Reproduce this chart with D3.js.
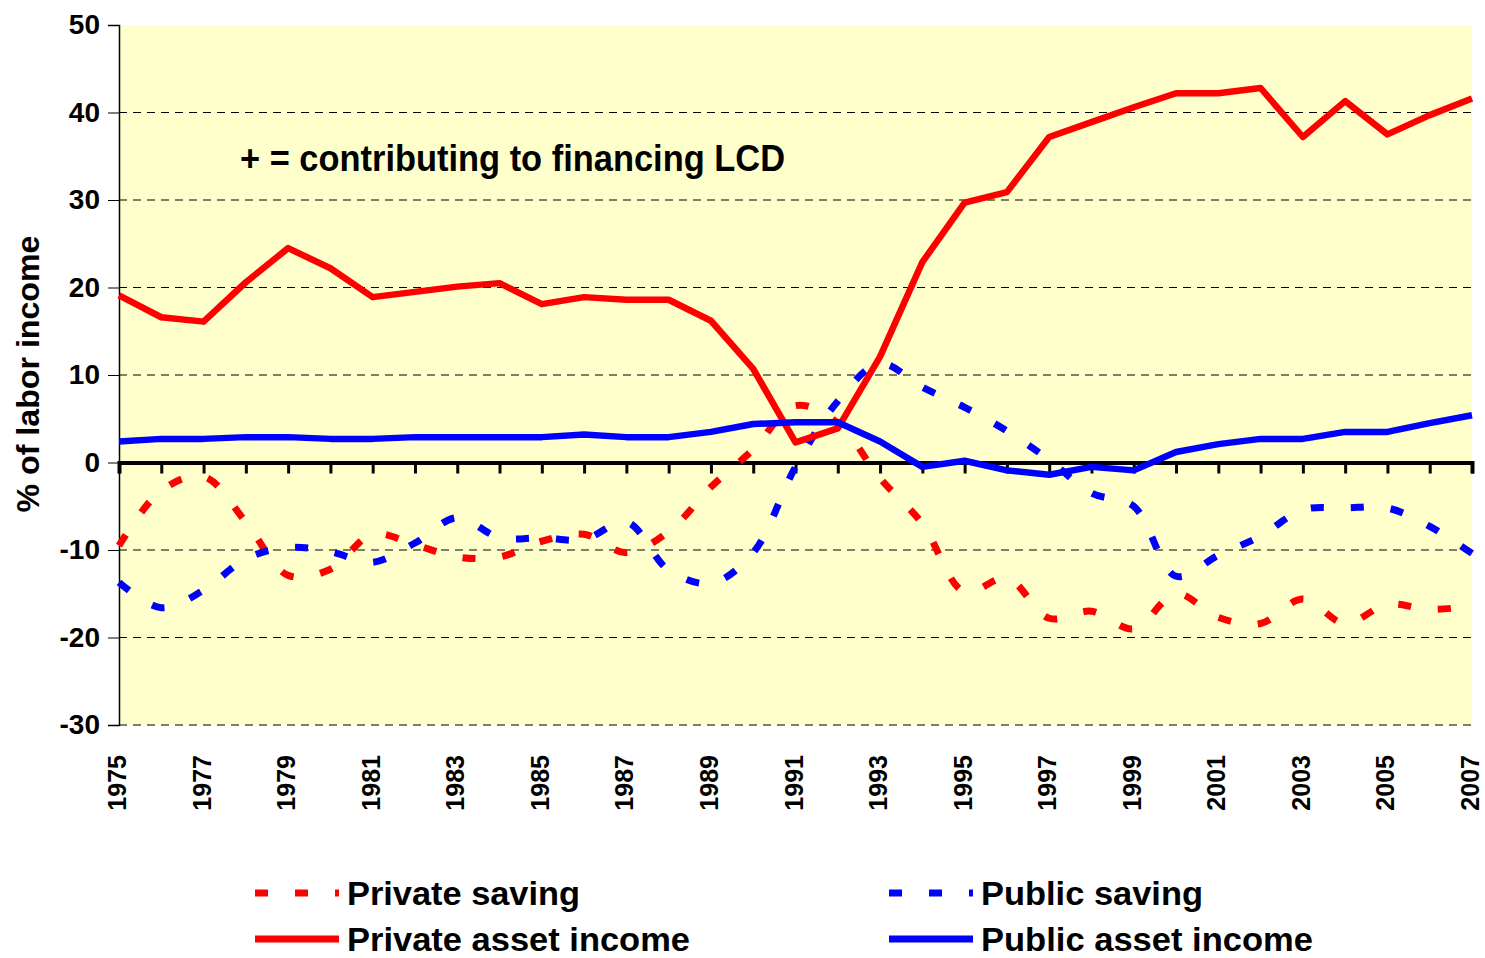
<!DOCTYPE html>
<html>
<head>
<meta charset="utf-8">
<script src="https://cdn.jsdelivr.net/npm/d3@7"></script>
<style>
  body { margin: 0; background: #fff; }
  text { font-family: "Liberation Sans", Arial, sans-serif; font-weight: bold; }
</style>
</head>
<body>
<div class="chart"></div>
<script>
// data (% of labor income)
const years = d3.range(1975, 2008);
const privateSaving = [-9.5,-3.2,-1.6,-6.8,-12.9,-12.2,-8.2,-9.4,-10.8,-10.8,-9,-8.2,-10.3,-7.9,-2.8,1.5,6.5,4.5,-1.8,-7,-14.8,-13.2,-17.8,-17,-19,-15,-17.7,-18.4,-15.6,-18.4,-16.2,-16.8,-16.4];
const publicSaving = [-13.7,-16.6,-14.6,-11,-9.7,-10.2,-11.4,-9.2,-6.3,-8.6,-8.6,-8.8,-6.8,-12.3,-13.8,-10.3,-0.5,7,11.3,8.6,6.3,3.6,0.3,-3.5,-5,-13,-10.6,-8.4,-5.4,-5.2,-5.2,-7.3,-10.4];
const privateAsset = [19.1,16.6,16.1,20.6,24.5,22.2,18.9,19.5,20.1,20.5,18.1,18.9,18.6,18.6,16.2,10.7,2.3,3.9,12.1,22.9,29.7,30.9,37.2,38.9,40.6,42.2,42.2,42.8,37.2,41.3,37.5,39.7,41.6];
const publicAsset = [2.4,2.7,2.7,2.9,2.9,2.7,2.7,2.9,2.9,2.9,2.9,3.2,2.9,2.9,3.5,4.4,4.6,4.6,2.4,-0.5,0.2,-0.9,-1.4,-0.5,-0.9,1.2,2.1,2.7,2.7,3.5,3.5,4.5,5.4];
const yTicks = [-30,-20,-10,0,10,20,30,40,50];
const xLabels = years.filter(y => y % 2 === 1);

const series = [
  {name: "Private saving", values: privateSaving, color: "#ff0000", dashed: true},
  {name: "Public saving", values: publicSaving, color: "#0000ff", dashed: true},
  {name: "Private asset income", values: privateAsset, color: "#ff0000", dashed: false},
  {name: "Public asset income", values: publicAsset, color: "#0000ff", dashed: false}
];

const W = 1485, H = 958;
const pLeft = 119, pTop = 25, pRight = 1472, pBottom = 725;

const svg = d3.select(".chart").append("svg")
  .attr("width", W)
  .attr("height", H);

const x = d3.scaleLinear().domain([1975, 2007]).range([pLeft, pRight]);
const y = d3.scaleLinear().domain([-30, 50]).range([pBottom, pTop]);

// plot background
svg.append("rect")
  .attr("x", pLeft).attr("y", pTop)
  .attr("width", pRight - pLeft).attr("height", pBottom - pTop)
  .attr("fill", "#ffffcc");

// dashed grid lines
svg.append("g")
  .selectAll("line")
  .data(yTicks.filter(d => d !== 0 && d !== 50))
  .join("line")
  .attr("x1", pLeft).attr("x2", pRight)
  .attr("y1", d => y(d)).attr("y2", d => y(d))
  .attr("stroke", "#000")
  .attr("stroke-width", 1)
  .attr("stroke-dasharray", "8,6");

// y axis (plain hyphen for negatives, like the original)
const yAxis = svg.append("g")
  .attr("transform", `translate(${pLeft},0)`)
  .call(d3.axisLeft(y).tickValues(yTicks).tickSize(11).tickPadding(8).tickFormat(d => String(d)));
yAxis.select(".domain").attr("stroke", "#000").attr("stroke-width", 1.5);
yAxis.selectAll(".tick line").attr("stroke", "#000");
yAxis.selectAll("text")
  .attr("font-size", 28)
  .attr("font-family", "Liberation Sans, Arial, sans-serif")
  .attr("font-weight", "bold")
  .attr("fill", "#000");

// x labels at the bottom, rotated
svg.append("g")
  .selectAll("text")
  .data(xLabels)
  .join("text")
  .attr("transform", d => `translate(${x(d) + 7},${pBottom + 30}) rotate(-90)`)
  .attr("text-anchor", "end")
  .attr("font-size", 25)
  .text(d => d);

// zero line with year ticks
const zeroAxis = svg.append("g")
  .attr("transform", `translate(0,${y(0)})`)
  .call(d3.axisBottom(x).tickValues(years).tickSize(11).tickFormat(""));
zeroAxis.select(".domain").attr("stroke", "#000").attr("stroke-width", 4);
zeroAxis.selectAll(".tick line").attr("stroke", "#000").attr("stroke-width", 3);

// lines
const smooth = d3.line()
  .x((d, i) => x(years[i]))
  .y(d => y(d))
  .curve(d3.curveCatmullRom.alpha(0.5));
const straight = d3.line()
  .x((d, i) => x(years[i]))
  .y(d => y(d));

svg.append("g")
  .selectAll("path")
  .data(series)
  .join("path")
  .attr("d", d => d.dashed ? smooth(d.values) : straight(d.values))
  .attr("fill", "none")
  .attr("stroke", d => d.color)
  .attr("stroke-width", d => d.dashed ? 7 : 6.5)
  .attr("stroke-dasharray", d => d.dashed ? "13,27" : null)
  .attr("stroke-linejoin", "round");

// annotation
svg.append("text")
  .attr("x", 240).attr("y", 171)
  .attr("font-size", 36)
  .attr("textLength", 545)
  .attr("lengthAdjust", "spacingAndGlyphs")
  .text("+ = contributing to financing LCD");

// y axis title
svg.append("text")
  .attr("transform", "translate(39,374) rotate(-90)")
  .attr("text-anchor", "middle")
  .attr("font-size", 31)
  .attr("textLength", 277)
  .attr("lengthAdjust", "spacingAndGlyphs")
  .text("% of labor income");

// legend
const legendItems = [
  {s: series[0], lx: 255, ly: 893, tw: 233},
  {s: series[2], lx: 255, ly: 939, tw: 343},
  {s: series[1], lx: 889, ly: 893, tw: 222},
  {s: series[3], lx: 889, ly: 939, tw: 332}
];
const legend = svg.append("g")
  .selectAll("g")
  .data(legendItems)
  .join("g");
legend.append("line")
  .attr("x1", d => d.lx).attr("x2", d => d.lx + 84)
  .attr("y1", d => d.ly).attr("y2", d => d.ly)
  .attr("stroke", d => d.s.color)
  .attr("stroke-width", 7)
  .attr("stroke-dasharray", d => d.s.dashed ? "13,27" : null);
legend.append("text")
  .attr("x", d => d.lx + 92)
  .attr("y", d => d.ly + 12)
  .attr("font-size", 34)
  .attr("textLength", d => d.tw)
  .attr("lengthAdjust", "spacingAndGlyphs")
  .text(d => d.s.name);
</script>
</body>
</html>
